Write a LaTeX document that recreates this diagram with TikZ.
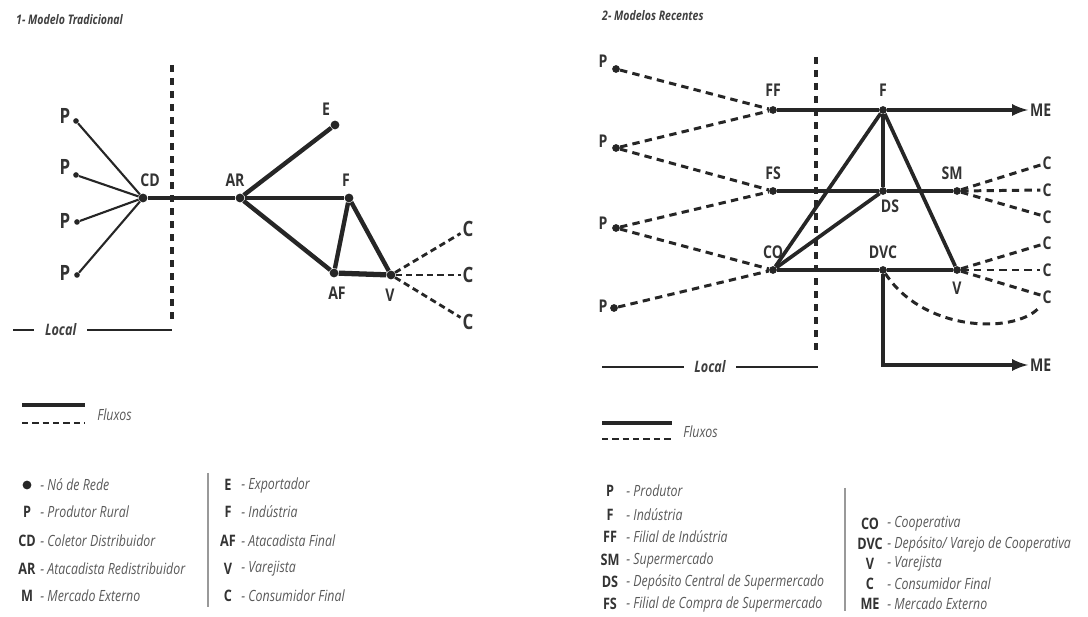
\documentclass[tikz,border=0pt]{standalone}
\usepackage{fontspec}
\setmainfont{Open Sans}
\newfontfamily\narrowfont{Open Sans}[FakeStretch=0.8]
\begin{document}
\begin{tikzpicture}[x=0.02cm,y=-0.02cm]
\tikzset{dot/.style = {shape=circle,fill=black!85,inner sep=0pt,minimum size=5pt},
  pdot/.style = {dot,minimum size=3.2pt},
  rdot/.style = {dot,minimum size=4.4pt},
  lbl/.style = {font=\narrowfont\bfseries\fontsize{10}{10}\selectfont,text=black!80,inner sep=1pt},
  biglbl/.style = {lbl,font=\narrowfont\bfseries\fontsize{12}{12}\selectfont},
  title/.style = {font=\narrowfont\bfseries\itshape\fontsize{7.5}{8}\selectfont,text=black!75,anchor=west},
  legsym/.style = {font=\narrowfont\bfseries\fontsize{9}{9}\selectfont,text=black!80},
  legtxt/.style = {font=\narrowfont\itshape\fontsize{8.8}{9}\selectfont,text=black!65,anchor=west,inner sep=0pt},
  loctxt/.style = {font=\narrowfont\bfseries\itshape\fontsize{9}{9}\selectfont,text=black!75,fill=white,inner xsep=6pt},
  flow/.style = {line width=2.5pt,draw=black!85},
  rflow/.style = {line width=2.1pt,draw=black!85},
  thinflow/.style = {line width=1.2pt,draw=black!85},
  flux/.style = {line width=1.6pt,draw=black!85,dash pattern=on 3.6pt off 2.3pt},
  rflux/.style = {line width=1.7pt,draw=black!85,dash pattern=on 4.2pt off 3pt},
  border/.style = {line width=2pt,draw=black!85,dash pattern=on 4pt off 3.4pt}}
\useasboundingbox (0,0) rectangle (1088,617);

%% 1- Modelo Tradicional
\node[title] (t1) at (10,20) {1- Modelo Tradicional};
\draw[border] (172,65) -- (172,325);
\draw[thinflow] (13,330) -- (172,330) node[pos=0.3,loctxt] (loc1) {Local};
% vertices
\foreach \x/\y/\name in {76/121/pa,76/175/pb,77/222/pc,77/275/pd} {
    \node[pdot] (\name) at (\x,\y) {};
}
\foreach \x/\y/\name in {143/198/cd,240/198/ar,335/125/ex,349/198/ind,334/273/af,391/275/var} {
    \node[dot] (\name) at (\x,\y) {};
}
% labels
\foreach \y/\name in {116/paL,167/pbL,221/pcL,273/pdL} {
    \node[biglbl] (\name) at (65,\y) {P};
}
\foreach \x/\y/\name/\txt in {150/180/cdL/CD,235/180/arL/AR,326/109/exL/E,346/180/indL/F,337/293/afL/AF,390/295/varL/V} {
    \node[lbl] (\name) at (\x,\y) {\txt};
}
\foreach \y/\name in {229/ca,275/cb,322/cc} {
    \node[biglbl] (\name) at (468,\y) {C};
}
% edges
\foreach \i in {pa,pb,pc,pd} {
    \draw[thinflow] (\i) -- (cd);
}
\foreach \i/\j in {cd/ar,ar/ex,ar/ind,ar/af,ind/af,ind/var} {
    \draw[flow] (\i) -- (\j);
}
\draw[flow,line width=3pt] (af) -- (var);
\foreach \j in {ca,cb,cc} {
    \draw[flux] (var) -- (\j);
}

%% 2- Modelos Recentes
\node[title] (t2) at (596,16) {2- Modelos Recentes};
\draw[border] (816,57) -- (816,353);
\draw[line width=1pt,draw=black!85] (602,367) -- (818,367) node[midway,loctxt] (loc2) {Local};
% vertices
\foreach \x/\y/\name in {616/69/pr1,616/148/pr2,616/228/pr3,614/308/pr4,773/110/ff,773/191/fs,773/270/co,883/110/fab,883/191/ds,883/270/dvc,957/191/sm,957/270/vr} {
    \node[rdot] (\name) at (\x,\y) {};
}
% labels
\foreach \y/\name in {61/pr1L,141/pr2L,223/pr3L,306/pr4L} {
    \node[lbl] (\name) at (603,\y) {P};
}
\foreach \x/\y/\name/\txt in {773/90/ffL/FF,883/90/fabL/F,773/173/fsL/FS,952/173/smL/SM,890/206/dsL/DS,773/252/coL/CO,883/252/dvcL/DVC,957/288/vrL/V} {
    \node[lbl] (\name) at (\x,\y) {\txt};
}
\foreach \y/\name in {163/c1,190/c2,217/c3,243/c4,270/c5,297/c6} {
    \node[lbl] (\name) at (1047,\y) {C};
}
\node[lbl,anchor=west] (me1) at (1028,110) {ME};
\node[lbl,anchor=west] (me2) at (1028,365) {ME};
% edges
\foreach \i/\j in {pr1/ff,pr2/ff,pr2/fs,pr3/fs,pr3/co,pr4/co} {
    \draw[rflux] (\i) -- (\j);
}
\foreach \i/\j in {ff/fab,fs/ds,ds/sm,co/dvc,dvc/vr,fab/ds,fab/co,fab/vr,ds/co} {
    \draw[rflow] (\i) -- (\j);
}
\draw[rflow,-latex] (fab) -- (me1);
\draw[rflow,-latex] (dvc) |- (me2);
\foreach \j in {c1,c2,c3} {
    \draw[rflux] (sm) -- (\j);
}
\foreach \j in {c4,c5,c6} {
    \draw[rflux] (vr) -- (\j);
}
\draw[rflux] (dvc) .. controls (925,334) and (1020,334) .. (c6);

%% legends
\draw[flow] (22,405) -- (85,405);
\draw[flux] (22,423) -- (85,423);
\node[legtxt] (fl1) at (97,415) {Fluxos};
\node[dot] (la485) at (27,485) {};
\node[legtxt] (lt485) at (40,485) {- Nó de Rede};
\foreach \y/\sym/\txt in {512/P/Produtor Rural,541/CD/Coletor Distribuidor,569/AR/Atacadista Redistribuidor,596/M/Mercado Externo} {
    \node[legsym] (la\y) at (27,\y) {\sym};
    \node[legtxt] (lt\y) at (40,\y) {- \txt};
}
\draw[black!40,line width=0.6pt] (208,473) -- (208,607);
\foreach \y/\sym/\txt in {485/E/Exportador,512/F/Indústria,541/AF/Atacadista Final,569/V/Varejista,596/C/Consumidor Final} {
    \node[legsym] (lb\y) at (228,\y) {\sym};
    \node[legtxt] (lu\y) at (241,\y) {- \txt};
}

\draw[flow] (602,423) -- (672,423);
\draw[flux] (602,439) -- (672,439);
\node[legtxt] (fl2) at (683,432) {Fluxos};
\foreach \y/\sym/\txt in {491/P/Produtor,515/F/Indústria,537/FF/Filial de Indústria,560/SM/Supermercado,582/DS/Depósito Central de Supermercado,604/FS/Filial de Compra de Supermercado} {
    \node[legsym] (ra\y) at (610,\y) {\sym};
    \node[legtxt] (rt\y) at (626,\y) {- \txt};
}
\draw[black!40,line width=0.6pt] (845,488) -- (845,611);
\foreach \y/\sym/\txt in {524/CO/Cooperativa,544/DVC/{Depósito/ Varejo de Cooperativa},564/V/Varejista,584/C/Consumidor Final,604/ME/Mercado Externo} {
    \node[legsym] (rb\y) at (870,\y) {\sym};
    \node[legtxt] (ru\y) at (887,\y) {- \txt};
}
\end{tikzpicture}
\end{document}
